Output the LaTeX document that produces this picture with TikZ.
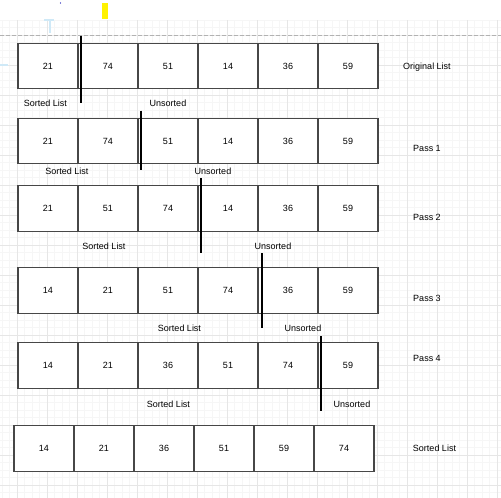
\documentclass[tikz,border=0pt]{standalone}
\usepackage{fontspec}
\setmainfont{Liberation Sans}
\definecolor{gminor}{HTML}{F6F6F6}
\definecolor{gmajor}{HTML}{E6E6E6}
\definecolor{cellborder}{HTML}{474747}
\definecolor{guide}{HTML}{CFE9F7}
\begin{document}
\begin{tikzpicture}[x=1pt,y=-1pt,
  cell/.style={draw=cellborder,line width=1.4pt,minimum width=60pt,minimum height=45.5pt,inner sep=0pt,outer sep=0pt,fill=white,font=\fontsize{9}{10}\selectfont},
  lbl/.style={inner sep=0pt,font=\fontsize{9}{10}\selectfont},
  divider/.style={line width=2pt,black}]
\useasboundingbox (0,0) rectangle (501,498);
\fill[white] (0,0) rectangle (501,498);
% grid
\foreach \i in {0,...,66} {\draw[gminor,line width=0.5pt] (2+7.5*\i,20) -- (2+7.5*\i,498);}
\foreach \i in {0,...,64} {\draw[gminor,line width=0.5pt] (0,20+7.5*\i) -- (501,20+7.5*\i);}
\foreach \i in {0,...,16} {\draw[gmajor,line width=0.8pt] (17+30*\i,20) -- (17+30*\i,498);}
\foreach \i in {0,...,15} {\draw[gmajor,line width=0.8pt] (0,35+30*\i) -- (501,35+30*\i);}
% top marks
\draw[gray!60,dash pattern=on 4pt off 2pt,line width=0.8pt] (0,35) -- (501,35);
\fill[yellow] (102,3) rectangle (108,18.5);
\fill[blue!70!black] (60.5,3) circle (0.7pt);
\fill[guide] (44,19) rectangle (54,21);
\fill[guide] (48.5,19) rectangle (50.5,33);
\fill[guide] (0,64) rectangle (8,66);
% rows
\foreach \r/\y/\a/\b/\c/\d/\e/\f in {1/66/21/74/51/14/36/59, 2/141/21/74/51/14/36/59, 3/208.5/21/51/74/14/36/59, 4/290.5/14/21/51/74/36/59, 5/365.5/14/21/36/51/74/59}{
  \node[cell] (r\r c1) at (48,\y) {\a};
  \node[cell] (r\r c2) at (108,\y) {\b};
  \node[cell] (r\r c3) at (168,\y) {\c};
  \node[cell] (r\r c4) at (228,\y) {\d};
  \node[cell] (r\r c5) at (288,\y) {\e};
  \node[cell] (r\r c6) at (348,\y) {\f};
}
\foreach \n/\v [count=\k] in {1/14,2/21,3/36,4/51,5/59,6/74}{
  \node[cell] (r6c\n) at (44+60*\k-60,448.5) {\v};
}
% dividers
\coordinate (d1a) at (81,36);  \coordinate (d1b) at (81,103);
\coordinate (d2a) at (141,110.5); \coordinate (d2b) at (141,170);
\coordinate (d3a) at (201,178); \coordinate (d3b) at (201,253);
\coordinate (d4a) at (262,253); \coordinate (d4b) at (262,328);
\coordinate (d5a) at (321,336); \coordinate (d5b) at (321,410.5);
\draw[divider] (d1a) -- (d1b);
\draw[divider] (d2a) -- (d2b);
\draw[divider] (d3a) -- (d3b);
\draw[divider] (d4a) -- (d4b);
\draw[divider] (d5a) -- (d5b);
% labels under rows
\node[lbl] (s1) at (45.5,103.5) {Sorted List};
\node[lbl] (u1) at (168,103.5) {Unsorted};
\node[lbl] (s2) at (67,171.5) {Sorted List};
\node[lbl] (u2) at (213,171.5) {Unsorted};
\node[lbl] (s3) at (104,246.5) {Sorted List};
\node[lbl] (u3) at (273,246.5) {Unsorted};
\node[lbl] (s4) at (179.5,328.5) {Sorted List};
\node[lbl] (u4) at (303,328.5) {Unsorted};
\node[lbl] (s5) at (168.5,404) {Sorted List};
\node[lbl] (u5) at (352,404) {Unsorted};
% right labels
\node[lbl] (t1) at (427,67) {Original List};
\node[lbl] (t2) at (427,148) {Pass 1};
\node[lbl] (t3) at (427,217) {Pass 2};
\node[lbl] (t4) at (427,298.5) {Pass 3};
\node[lbl] (t5) at (427,358.5) {Pass 4};
\node[lbl] (t6) at (434.5,448.5) {Sorted List};
\end{tikzpicture}
\end{document}
